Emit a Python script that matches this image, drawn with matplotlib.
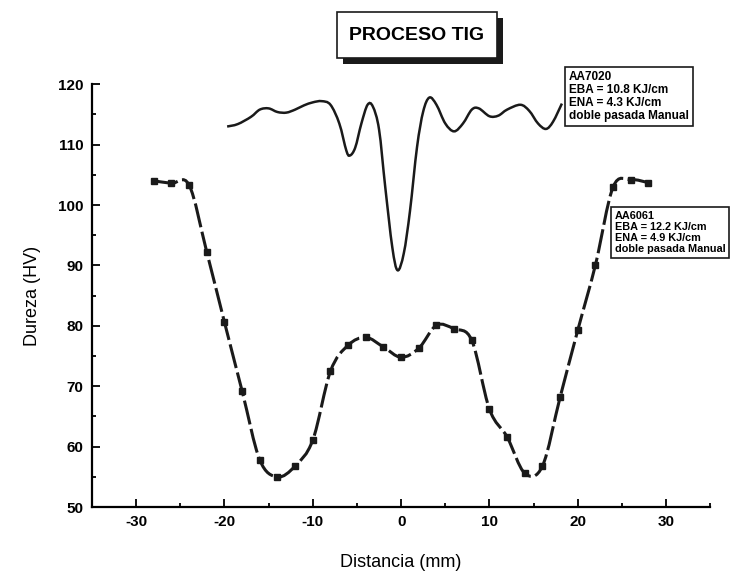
import numpy as np
import matplotlib.pyplot as plt
from matplotlib.path import Path
from matplotlib.patches import PathPatch, Rectangle
from matplotlib.ticker import MultipleLocator

plt.rcParams['font.family'] = ['Liberation Sans', 'DejaVu Sans']
plt.rcParams['axes.unicode_minus'] = False

# AA6061 hardness profile (measured points)
x6061 = [-28, -26, -24, -22, -20, -18, -16, -14, -12, -10, -8, -6, -4, -2, 0,
         2, 4, 6, 8, 10, 12, 14, 16, 18, 20, 22, 24, 26, 28]
hv6061 = [104.0, 103.6, 103.3, 92.2, 80.6, 69.2, 57.8, 55.0, 56.8, 61.1, 72.5,
          76.8, 78.1, 76.5, 74.8, 76.3, 80.1, 79.5, 77.6, 66.2, 61.6, 55.6,
          56.8, 68.2, 79.3, 90.1, 103.0, 104.2, 103.7]

# AA7020 hardness profile (continuous trace)
x7020 = [-19.7, -18.5, -17, -16, -15, -14, -13, -12, -11, -10, -9, -8, -7,
         -6.2, -5.8, -5.2, -4.5, -3.8, -3.2, -2.5, -1.8, -1, -0.4, 0.3, 1,
         1.8, 2.5, 3.2, 4, 5, 6, 7, 8, 8.8, 10, 11, 12, 13.5, 14.5, 15.5,
         16.4, 17.2, 18.2]
hv7020 = [113.0, 113.4, 114.6, 115.8, 116.0, 115.4, 115.3, 115.8, 116.5,
          117.0, 117.2, 116.6, 113.5, 109.0, 108.2, 109.5, 113.5, 116.6,
          116.3, 112.5, 103.0, 93.0, 89.2, 92.0, 99.0, 109.6, 115.5, 117.8,
          116.6, 113.5, 112.2, 113.5, 115.8, 116.0, 114.7, 114.8, 115.8,
          116.6, 115.6, 113.5, 112.6, 113.8, 116.8]


def smooth_path(xs, ys):
    # Catmull-Rom through the points, drawn as cubic Bezier segments
    p = np.column_stack([xs, ys]).astype(float)
    verts = [p[0]]
    codes = [Path.MOVETO]
    n = len(p)
    for i in range(n - 1):
        p0 = p[max(i - 1, 0)]
        p1, p2 = p[i], p[i + 1]
        p3 = p[min(i + 2, n - 1)]
        verts += [p1 + (p2 - p0) / 6, p2 - (p3 - p1) / 6, p2]
        codes += [Path.CURVE4] * 3
    return Path(verts, codes)


fig = plt.figure(figsize=(7.3, 5.73), dpi=100)
ax = fig.add_axes([0.126, 0.115, 0.847, 0.738])

ax.add_patch(PathPatch(smooth_path(x7020, hv7020), fill=False,
                       edgecolor='#1a1a1a', lw=1.8))
ax.add_patch(PathPatch(smooth_path(x6061, hv6061), fill=False,
                       edgecolor='#1a1a1a', lw=2.2, ls=(0, (8, 1.5))))
ax.plot(x6061, hv6061, ls='none', color='#1a1a1a', marker='s', markersize=5)

ax.set_xlim(-35, 35)
ax.set_ylim(50, 120)
ax.xaxis.set_major_locator(MultipleLocator(10))
ax.xaxis.set_minor_locator(MultipleLocator(5))
ax.yaxis.set_major_locator(MultipleLocator(10))
ax.yaxis.set_minor_locator(MultipleLocator(5))
ax.tick_params(which='both', direction='in', top=False, right=False,
               labelsize=11, width=1.3, pad=6)
ax.tick_params(which='major', length=6)
ax.tick_params(which='minor', length=3)
for lab in ax.get_xticklabels() + ax.get_yticklabels():
    lab.set_fontweight('bold')
for s in ['top', 'right']:
    ax.spines[s].set_visible(False)
for s in ['left', 'bottom']:
    ax.spines[s].set_linewidth(1.6)

ax.set_xlabel('Distancia (mm)', fontsize=13, labelpad=18)
ax.set_ylabel('Dureza (HV)', fontsize=13, labelpad=12)

box = dict(boxstyle='square,pad=0.35', facecolor='white', edgecolor='#1a1a1a',
           lw=1.2)
fig.text(0.779, 0.876, 'AA7020\nEBA = 10.8 KJ/cm\nENA = 4.3 KJ/cm\ndoble pasada Manual',
         fontsize=8.5, fontweight='bold', va='top', ha='left', linespacing=1.1,
         bbox=box)
fig.text(0.842, 0.632, 'AA6061\nEBA = 12.2 KJ/cm\nENA = 4.9 KJ/cm\ndoble pasada Manual',
         fontsize=7.8, fontweight='bold', va='top', ha='left', linespacing=1.15,
         bbox=box)

# title box with drop shadow
bx, by, bw, bh = 0.4616, 0.8988, 0.2192, 0.0802
fig.patches.append(Rectangle((bx + 0.0085, by - 0.011), bw, bh,
                             transform=fig.transFigure, facecolor='#1a1a1a',
                             edgecolor='none'))
fig.patches.append(Rectangle((bx, by), bw, bh, transform=fig.transFigure,
                             facecolor='white', edgecolor='#1a1a1a', lw=1.2))
fig.text(bx + bw / 2, by + bh / 2, 'PROCESO TIG', fontsize=14,
         fontweight='bold', ha='center', va='center')

fig.savefig('out.png', dpi=100)
